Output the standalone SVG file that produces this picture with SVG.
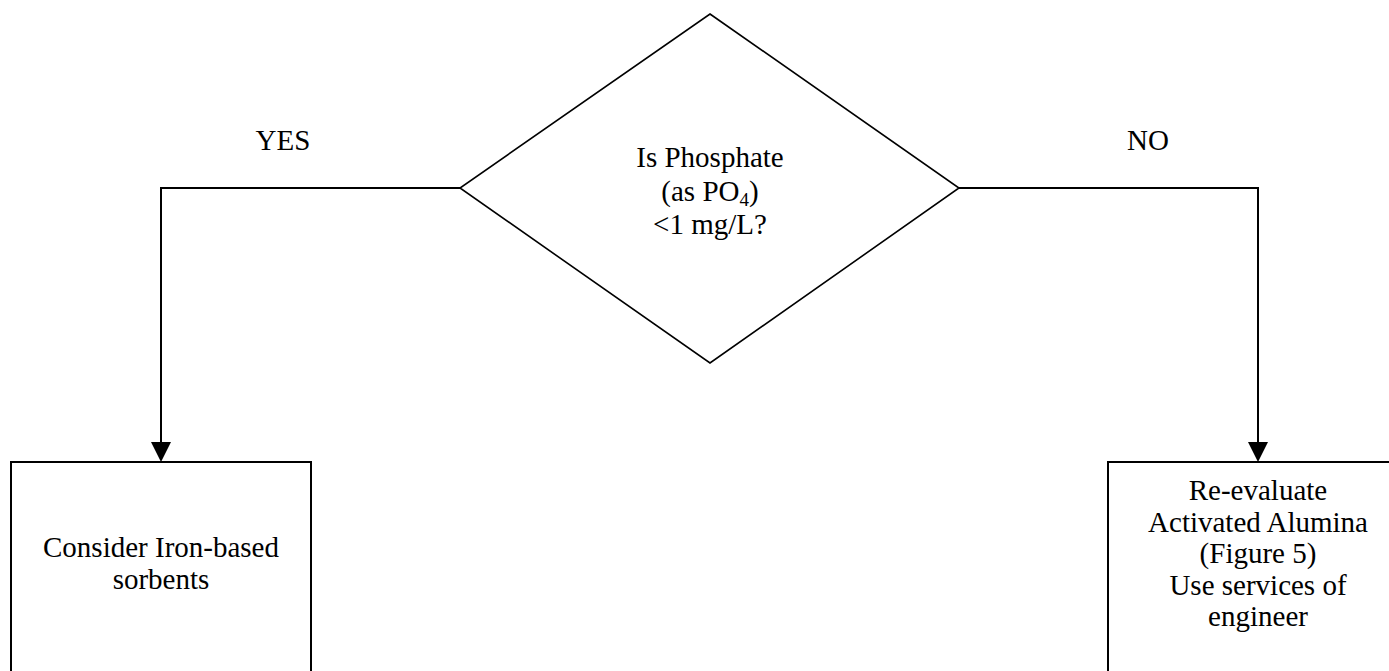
<svg xmlns="http://www.w3.org/2000/svg" width="1389" height="671" viewBox="0 0 1389 671">
  <style>
    .shape { fill: #ffffff; stroke: #000000; stroke-width: 2; }
    .diamond { fill: #ffffff; stroke: #000000; stroke-width: 1.6; }
    .wire { fill: none; stroke: #000000; stroke-width: 2; }
    .label { font-family: 'Liberation Serif', 'DejaVu Serif', serif; font-size: 29px; fill: #000000; text-anchor: middle; }
  </style>

  <rect width="1389" height="671" fill="#ffffff"/>

  <!-- connectors -->
  <g id="connectors">
    <path class="wire" d="M460,188 H161 V442"/>
    <path d="M151,442 L171,442 L161,462 Z" fill="#000000"/>
    <path class="wire" d="M959,188 H1258 V442"/>
    <path d="M1248,442 L1268,442 L1258,462 Z" fill="#000000"/>
    <text class="label" font-family="Liberation Serif" x="283" y="150">YES</text>
    <text class="label" font-family="Liberation Serif" x="1148" y="150">NO</text>
  </g>

  <!-- decision -->
  <g id="decision" font-family="Liberation Serif">
    <polygon class="diamond" points="710,14 959,188 710,363 460,188"/>
    <text class="label" x="710" y="167">Is Phosphate</text>
    <text class="label" x="710" y="201">(as PO<tspan font-size="19" dy="5">4</tspan><tspan dy="-5">)</tspan></text>
    <text class="label" x="710" y="234">&lt;1 mg/L?</text>
  </g>

  <!-- outcome: yes -->
  <g id="yes-box">
    <rect class="shape" x="11" y="462" width="300" height="240"/>
    <text class="label" x="161" y="557">Consider Iron-based</text>
    <text class="label" x="161" y="589">sorbents</text>
  </g>

  <!-- outcome: no -->
  <g id="no-box">
    <rect class="shape" x="1108" y="462" width="300" height="240"/>
    <text class="label" x="1258" y="500">Re-evaluate</text>
    <text class="label" x="1258" y="531.5">Activated Alumina</text>
    <text class="label" x="1258" y="563">(Figure 5)</text>
    <text class="label" x="1258" y="594.5">Use services of</text>
    <text class="label" x="1258" y="626">engineer</text>
  </g>
</svg>
